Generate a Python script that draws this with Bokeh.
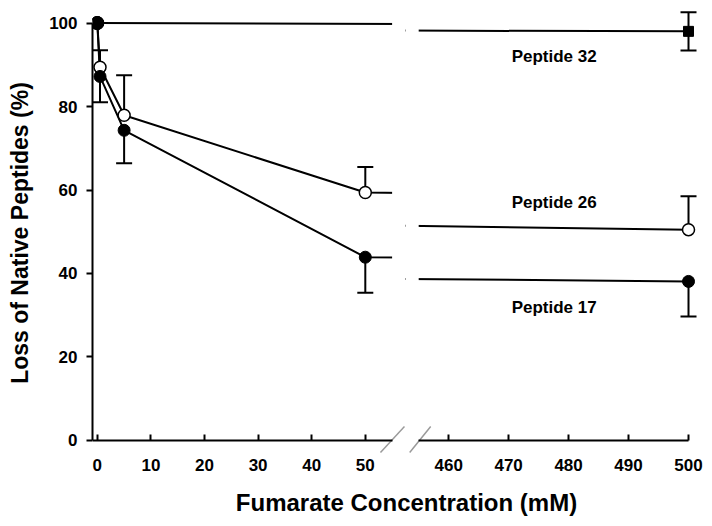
from bokeh.plotting import figure
from bokeh.layouts import column, row
from bokeh.models import Range1d, FixedTicker, LinearAxis
from bokeh.core.properties import value
from bokeh.embed import file_html
from bokeh.resources import INLINE

# ---- data ----
conc = [0, 0.5, 5, 50, 500]
pep17 = [100, 87.2, 74.3, 43.9, 38.1]
pep17_err_down = [0, 6.2, 7.9, 8.5, 8.4]
pep26 = [100, 89.4, 77.9, 59.4, 50.5]
pep26_err_up = [0, 4.1, 9.6, 6.1, 8.0]
pep32_conc = [0, 500]
pep32 = [100, 98.0]
pep32_err = [0, 4.6]

label_names = ["Peptide 32", "Peptide 26", "Peptide 17"]
label_x = [470.5, 470.5, 470.5]
label_y = [91.9, 57.0, 31.9]

left_ticks = [0, 10, 20, 30, 40, 50]
right_ticks = [460, 470, 480, 490, 500]
y_ticks = [0, 20, 40, 60, 80, 100]

left_axis_end = 55      # left segment of the broken axis stops here
right_axis_start = 455  # right segment starts here

FONT = "Liberation Sans"
LW = 2
Y_MIN, Y_MAX = -3.6, 103


def style(p, ticks, bounds):
    p.xgrid.visible = False
    p.ygrid.visible = False
    p.outline_line_color = None
    p.background_fill_color = "white"
    p.border_fill_color = "white"
    yax = p.yaxis[0]
    yax.axis_line_width = LW
    yax.major_tick_line_width = LW
    yax.major_tick_in = 0
    yax.major_tick_out = 6
    yax.minor_tick_line_color = None
    yax.major_label_text_font = FONT
    yax.major_label_text_font_style = "bold"
    yax.major_label_text_font_size = "17px"
    yax.major_label_text_color = "black"
    yax.axis_label_text_font = FONT
    yax.axis_label_text_font_style = "bold"
    yax.axis_label_text_font_size = "23px"
    yax.axis_label_text_color = "black"

    # rule + ticks of the x axis, drawn at y = 0
    rule = p.xaxis[0]
    rule.ticker = FixedTicker(ticks=ticks)
    rule.bounds = bounds
    rule.fixed_location = 0
    rule.axis_line_width = LW
    rule.major_tick_line_width = LW
    rule.major_tick_in = 6
    rule.major_tick_out = 0
    rule.minor_tick_line_color = None
    rule.major_label_text_color = None

    # tick labels of the x axis
    lab = LinearAxis(ticker=FixedTicker(ticks=ticks))
    lab.axis_line_color = None
    lab.major_tick_line_color = None
    lab.minor_tick_line_color = None
    lab.major_tick_in = 0
    lab.major_tick_out = 0
    lab.major_label_standoff = 3
    lab.major_label_text_font = FONT
    lab.major_label_text_font_style = "bold"
    lab.major_label_text_font_size = "17px"
    lab.major_label_text_color = "black"
    p.add_layout(lab, "below")


def draw_data(p):
    e26x = [c for c, e in zip(conc, pep26_err_up) if e > 0]
    e26y0 = [v for v, e in zip(pep26, pep26_err_up) if e > 0]
    e26y1 = [v + e for v, e in zip(pep26, pep26_err_up) if e > 0]
    e17x = [c for c, e in zip(conc, pep17_err_down) if e > 0]
    e17y0 = [v for v, e in zip(pep17, pep17_err_down) if e > 0]
    e17y1 = [v - e for v, e in zip(pep17, pep17_err_down) if e > 0]
    e32x = [c for c, e in zip(pep32_conc, pep32_err) if e > 0]
    e32lo = [v - e for v, e in zip(pep32, pep32_err) if e > 0]
    e32hi = [v + e for v, e in zip(pep32, pep32_err) if e > 0]

    p.segment(e26x, e26y0, e26x, e26y1, line_color="black", line_width=LW)
    p.scatter(e26x, e26y1, marker="dash", size=16, line_color="black", line_width=LW)
    p.segment(e17x, e17y0, e17x, e17y1, line_color="black", line_width=LW)
    p.scatter(e17x, e17y1, marker="dash", size=16, line_color="black", line_width=LW)
    p.segment(e32x, e32lo, e32x, e32hi, line_color="black", line_width=LW)
    p.scatter(e32x, e32lo, marker="dash", size=16, line_color="black", line_width=LW)
    p.scatter(e32x, e32hi, marker="dash", size=16, line_color="black", line_width=LW)

    p.line(pep32_conc, pep32, line_color="black", line_width=LW)
    p.line(conc, pep26, line_color="black", line_width=LW)
    p.line(conc, pep17, line_color="black", line_width=LW)

    p.scatter(pep32_conc, pep32, marker=["circle", "square"], size=[13, 10],
              fill_color="black", line_color="black", line_width=1)
    p.scatter(conc, pep26, marker="circle", size=12, fill_color="white",
              line_color="black", line_width=1.5)
    p.scatter(conc[:1], pep17[:1], marker="circle", size=13, fill_color="black",
              line_color="black", line_width=1)
    p.scatter(conc[1:], pep17[1:], marker="circle", size=12, fill_color="black",
              line_color="black", line_width=1)


y_range = Range1d(Y_MIN, Y_MAX)

# ---- left panel (0 - 55 mM) ----
left = figure(x_range=Range1d(-0.9, 57.5), y_range=y_range,
              frame_width=313, frame_height=445,
              min_border_left=92, min_border_right=0,
              min_border_top=10, min_border_bottom=25,
              output_backend="svg", toolbar_location=None)
style(left, left_ticks, (-0.9, left_axis_end))
left.yaxis.ticker = FixedTicker(ticks=y_ticks)
left.yaxis.bounds = (0, 100)
left.yaxis.major_label_standoff = 9
left.yaxis.axis_label = "Loss of Native Peptides (%)"
left.yaxis.axis_label_standoff = 13
draw_data(left)
# blank the gap past the axis end, then the break mark
left.quad(left=[left_axis_end], right=[57.5], bottom=[Y_MIN], top=[Y_MAX],
          fill_color="white", line_color=None)
left.segment([52.83], [-2.87], [57.31], [3.35], line_color="#9a9a9a", line_width=1.5)

# ---- right panel (455 - 500 mM) ----
right = figure(x_range=Range1d(452.8, 502), y_range=y_range,
               frame_width=295, frame_height=445,
               min_border_left=0, min_border_right=8,
               min_border_top=10, min_border_bottom=25,
               output_backend="svg", toolbar_location=None)
style(right, right_ticks, (right_axis_start, 500))
right.yaxis.visible = False
draw_data(right)
right.quad(left=[452.8], right=[right_axis_start], bottom=[Y_MIN], top=[Y_MAX],
           fill_color="white", line_color=None)
right.segment([453.5], [-2.87], [457.0], [3.35], line_color="#9a9a9a", line_width=1.5)
right.text(label_x, label_y, text=label_names, text_font=value(FONT),
           text_font_style="bold", text_font_size="17px",
           text_baseline="middle", text_align="left", text_color="black")

# ---- shared x-axis title ----
title_fig = figure(width=708, height=44, x_range=Range1d(0, 708), y_range=Range1d(0, 44),
                   output_backend="svg", toolbar_location=None, min_border=0)
title_fig.axis.visible = False
title_fig.grid.visible = False
title_fig.outline_line_color = None
title_fig.text([406], [22], text=["Fumarate Concentration (mM)"], text_font=value(FONT),
               text_font_style="bold", text_font_size="24px",
               text_baseline="middle", text_align="center", text_color="black")

layout = column(row(left, right), title_fig)

open("out.html", "w").write(file_html(layout, INLINE))
